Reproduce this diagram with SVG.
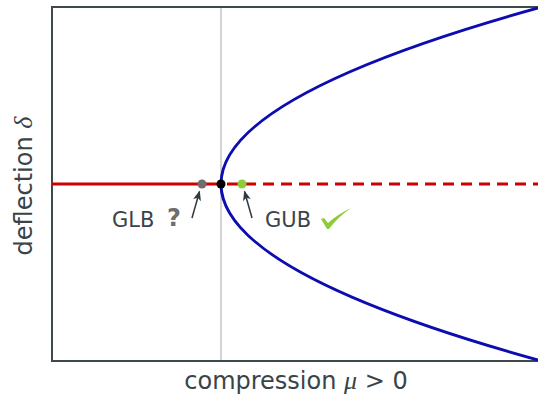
<svg xmlns="http://www.w3.org/2000/svg" width="538" height="400" viewBox="0 0 538 400">
<defs>
<style>
.lbl{font-family:"DejaVu Sans","Liberation Sans",sans-serif;fill:#3a4448}
.math{font-family:"Liberation Serif",serif;font-style:italic;fill:#3a4448}
.arr{stroke:#2f3a3e;stroke-width:1.5;fill:none}
</style>
<marker id="ah" viewBox="0 0 10 10" refX="9" refY="5" markerWidth="10" markerHeight="10" orient="auto" markerUnits="userSpaceOnUse">
<path d="M0,1 L10,5 L0,9 L2.5,5 z" fill="#2f3a3e"/>
</marker>
<clipPath id="plot"><rect x="52" y="7" width="486" height="354"/></clipPath>
</defs>
<rect width="538" height="400" fill="#fff"/>
<g id="axes">
<line x1="221" y1="7" x2="221" y2="361" stroke="#a8a8a8" stroke-width="1"/>
<path d="M538,7 H52 V361 H538" fill="none" stroke="#3f4a4f" stroke-width="2"/>
</g>
<g id="connectors" clip-path="url(#plot)">
<line id="stable" x1="52" y1="184" x2="221" y2="184" stroke="#cc0000" stroke-width="3"/>
<line id="unstable" x1="221" y1="184" x2="538" y2="184" stroke="#cc0000" stroke-width="3" stroke-dasharray="11,7" stroke-dashoffset="-6"/>
<path id="parabola" d="M538,8 Q-96,184 538,360" fill="none" stroke="#0c0cb0" stroke-width="3"/>
<line class="arr" x1="192" y1="218" x2="199.5" y2="191.5" marker-end="url(#ah)"/>
<line class="arr" x1="252" y1="218" x2="244.5" y2="191.5" marker-end="url(#ah)"/>
</g>
<g id="glb-point"><circle cx="202" cy="184" r="4.5" fill="#6e6e6e"/></g>
<g id="bif-point"><circle cx="221" cy="184" r="4.5" fill="#000"/></g>
<g id="gub-point"><circle cx="242" cy="184" r="4.5" fill="#8fcc3a"/></g>
<g id="glb-label">
<text class="lbl" x="112" y="227" font-size="21">GLB</text>
<text x="167" y="226" font-size="24" font-weight="bold" font-family="DejaVu Sans,sans-serif" fill="#6e6e6e">?</text>
</g>
<g id="gub-label">
<text class="lbl" x="265" y="227" font-size="21">GUB</text>
<path d="M321,219 L324,218 L328,223 Q338,214 351,208 Q338,217 329,229 L327,229 Z" fill="#8fcc3a"/>
</g>
<g id="xlabel">
<text x="296" y="389" font-size="24" text-anchor="middle"><tspan class="lbl">compression </tspan><tspan class="math" font-size="26">μ</tspan><tspan class="lbl"> &gt; 0</tspan></text>
</g>
<g id="ylabel">
<text transform="translate(32,186) rotate(-90)" font-size="24" text-anchor="middle"><tspan class="lbl">deflection </tspan><tspan class="math" font-size="26">δ</tspan></text>
</g>
</svg>
